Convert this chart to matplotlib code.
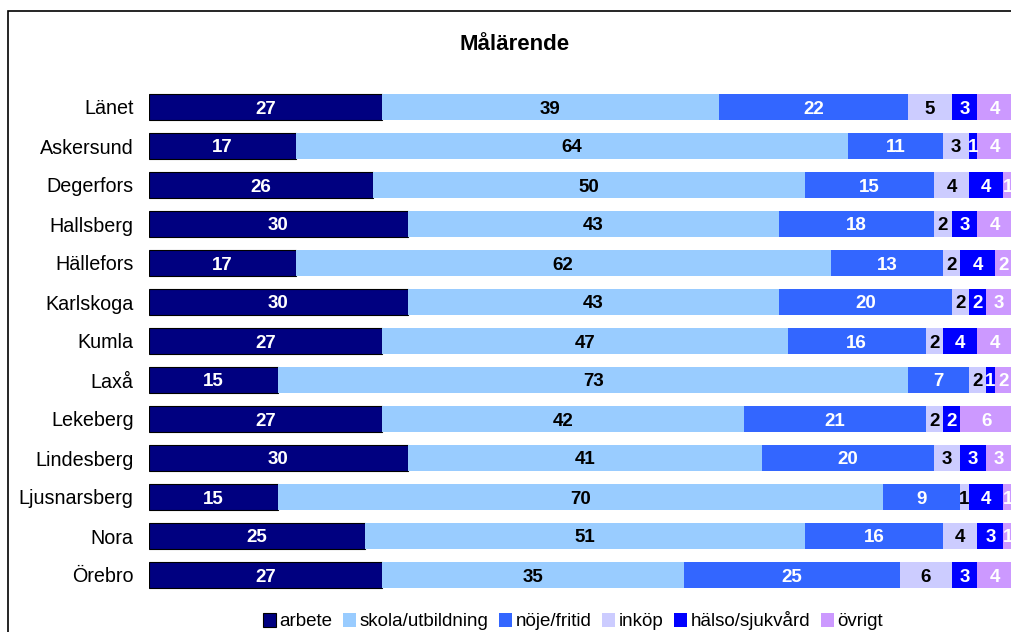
import matplotlib.pyplot as plt
from matplotlib.patches import Rectangle
import numpy as np

kommuner = ['Länet', 'Askersund', 'Degerfors', 'Hallsberg', 'Hällefors',
            'Karlskoga', 'Kumla', 'Laxå', 'Lekeberg', 'Lindesberg',
            'Ljusnarsberg', 'Nora', 'Örebro']

arbete = [27, 17, 26, 30, 17, 30, 27, 15, 27, 30, 15, 25, 27]
skola = [39, 64, 50, 43, 62, 43, 47, 73, 42, 41, 70, 51, 35]
noje = [22, 11, 15, 18, 13, 20, 16, 7, 21, 20, 9, 16, 25]
inkop = [5, 3, 4, 2, 2, 2, 2, 2, 2, 3, 1, 4, 6]
halso = [3, 1, 4, 3, 4, 2, 4, 1, 2, 3, 4, 3, 3]
ovrigt = [4, 4, 1, 4, 2, 3, 4, 2, 6, 3, 1, 1, 4]

serier = ['arbete', 'skola/utbildning', 'nöje/fritid', 'inköp',
          'hälso/sjukvård', 'övrigt']
farger = ['#000080', '#99CCFF', '#3366FF', '#CCCCFF', '#0000FF', '#CC99FF']
textfarger = ['white', 'black', 'white', 'black', 'white', 'white']

plt.rcParams['font.family'] = ['Liberation Sans', 'DejaVu Sans']

fig = plt.figure(figsize=(10.11, 6.32), dpi=100)
ax = fig.add_axes([149 / 1011, 1 - 594.5 / 632, 863 / 1011, 507 / 632])

y = np.arange(len(kommuner))
left = np.zeros(len(kommuner))
for i, vals in enumerate([arbete, skola, noje, inkop, halso, ovrigt]):
    vals = np.array(vals)
    edge = 'black' if i == 0 else 'none'
    ax.barh(y, vals, left=left, height=0.67, color=farger[i],
            edgecolor=edge, linewidth=0.8, label=serier[i])
    for yy, l, v in zip(y, left, vals):
        ax.text(l + v / 2, yy, str(v), ha='center', va='center_baseline',
                color=textfarger[i], fontsize=13.5, fontweight='bold')
    left += vals

ax.set_xlim(0, 100)
ax.set_ylim(12.5, -0.5)
ax.set_yticks(y)
ax.set_yticklabels(kommuner, fontsize=14.2)
ax.set_xticks([])
ax.tick_params(axis='y', length=0, pad=11)
for s in ax.spines.values():
    s.set_visible(False)

fig.text(515 / 1011, 1 - 45 / 632, 'Målärende', ha='center', va='center',
         fontsize=16, fontweight='bold')

fig.legend(loc='center', bbox_to_anchor=(573 / 1011, 1 - 621 / 632),
           ncol=6, frameon=False, fontsize=13.5, handlelength=0.7,
           handleheight=0.7, handletextpad=0.2, columnspacing=0.55,
           borderpad=0)

# ram runt diagrammet
fig.patches.append(Rectangle((8 / 1011, -0.2), 1.2, 1 - 11 / 632 + 0.2,
                             transform=fig.transFigure, fill=False,
                             edgecolor='black', linewidth=1.2))

fig.savefig('out.png', dpi=100)
